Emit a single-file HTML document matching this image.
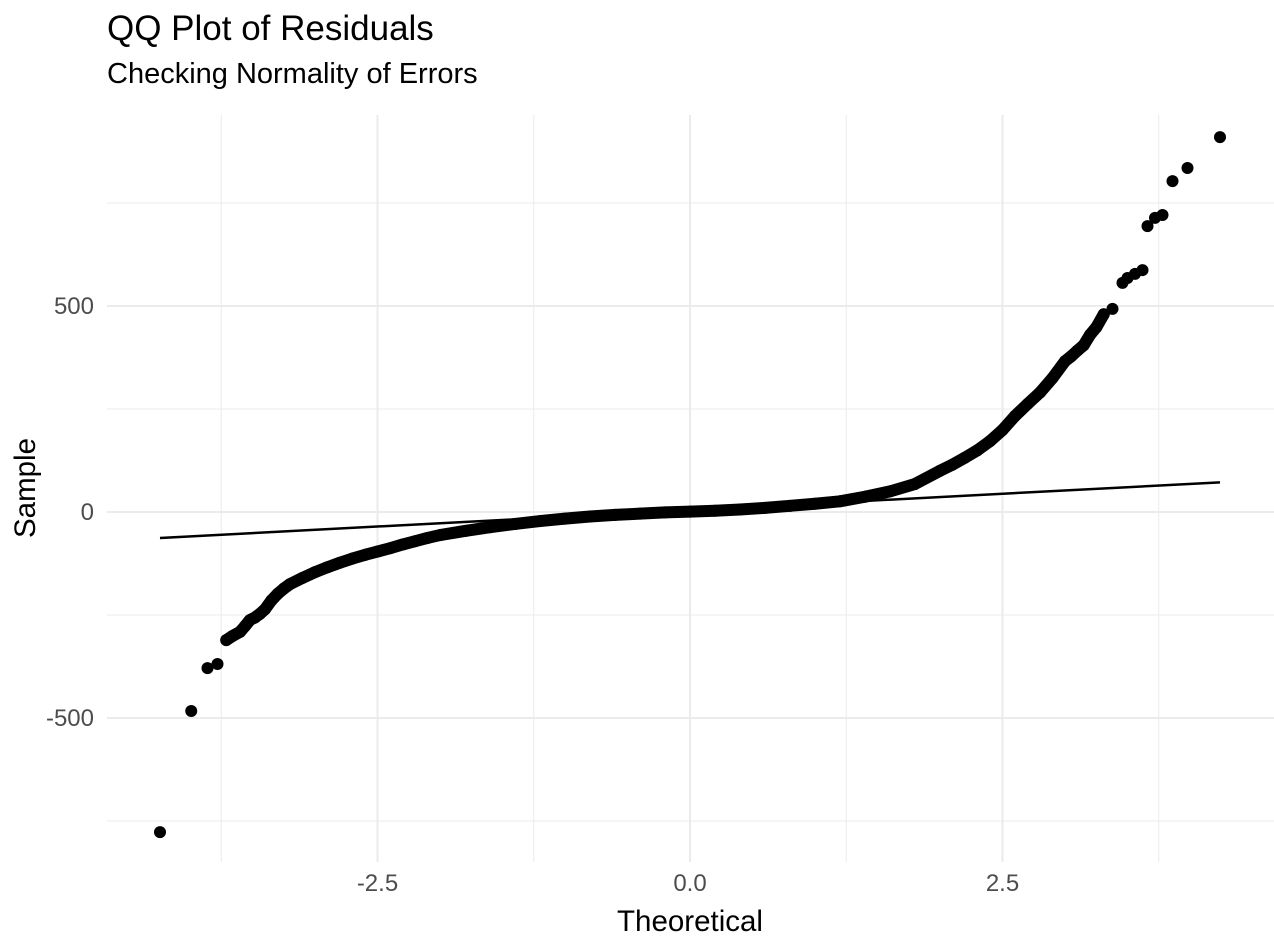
<!DOCTYPE html>
<html><head><meta charset="utf-8"><style>
html,body{margin:0;padding:0;background:#fff;}
svg{display:block;font-family:"Liberation Sans",Arial,sans-serif;}
</style></head><body>
<svg id="chart" width="1274" height="950">
<text x="107" y="40" font-size="35" fill="#000">QQ Plot of Residuals</text>
<text x="107" y="83" font-size="29" fill="#000">Checking Normality of Errors</text>
<g id="grid"></g>
<g id="ticks"></g>
<g id="marks"></g>
<text x="690" y="931" font-size="29.5" text-anchor="middle" fill="#000">Theoretical</text>
<text x="35" y="488" font-size="29.5" text-anchor="middle" fill="#000" transform="rotate(-90 35 488)">Sample</text>
</svg>
<script>
const xMajor=[-2.5,0,2.5];
const xMinor=[-3.75,-1.25,1.25,3.75];
const yMajor=[-500,0,500];
const yMinor=[-750,-250,250,750];
const xTickLabels=["-2.5","0.0","2.5"];
const yTickLabels=["-500","0","500"];
const theoretical=[-4.24,-3.99,-3.86,-3.78,-3.71,-3.66,-3.6,-3.56,-3.52,-3.48,-3.44,-3.4,-3.35,-3.3,-3.25,-3.2,-3.1,-3.0,-2.9,-2.8,-2.7,-2.6,-2.5,-2.4,-2.3,-2.2,-2.1,-2.0,-1.8,-1.6,-1.4,-1.2,-1.0,-0.8,-0.6,-0.4,-0.2,0,0.2,0.4,0.6,0.8,1.0,1.2,1.4,1.6,1.8,2.0,2.1,2.2,2.3,2.4,2.5,2.6,2.7,2.8,2.9,3.0,3.05,3.1,3.15,3.2,3.25,3.31,3.38,3.46,3.5,3.56,3.62,3.66,3.72,3.78,3.86,3.98,4.24];
const sample=[-777,-483,-379,-369,-311,-301,-291,-277,-262,-256,-247,-236,-215,-199,-186,-175,-160,-146,-134,-123,-113,-104,-96,-88,-79,-71,-63,-56,-46,-37,-29,-22,-16,-11,-7,-4,-1,1,3,6,10,15,20,26,37,50,68,100,115,132,150,172,199,233,262,290,325,366,378,392,405,430,448,480,493,556,568,578,587,694,714,721,803,835,910];
const lineT=[-4.24,4.24];
const lineS=[-63,72];
const X=v=>690+v*125, Y=v=>512-v*0.412;
const ns="http://www.w3.org/2000/svg";
function mk(tag,p,at){const e=document.createElementNS(ns,tag);for(const k in at)e.setAttribute(k,at[k]);p.appendChild(e);return e;}
const grid=document.getElementById('grid'),ticks=document.getElementById('ticks'),marks=document.getElementById('marks');
xMinor.forEach(v=>{const l=mk('line',grid,{x1:X(v),x2:X(v),y1:115,y2:862,stroke:'#ebebeb','stroke-width':1});

});
yMinor.forEach(v=>{const l=mk('line',grid,{x1:107,x2:1274,y1:Y(v),y2:Y(v),stroke:'#ebebeb','stroke-width':1});

});
xMajor.forEach((v,i)=>{const l=mk('line',grid,{x1:X(v),x2:X(v),y1:115,y2:862,stroke:'#ebebeb','stroke-width':2});


const t=mk('text',ticks,{x:X(v),y:891,'font-size':24,'text-anchor':'middle',fill:'#4d4d4d'});t.textContent=xTickLabels[i];

});
yMajor.forEach((v,i)=>{const l=mk('line',grid,{x1:107,x2:1274,y1:Y(v),y2:Y(v),stroke:'#ebebeb','stroke-width':2});


const t=mk('text',ticks,{x:94,y:Y(v)+8,'font-size':24,'text-anchor':'end',fill:'#4d4d4d'});t.textContent=yTickLabels[i];

});
const dense=theoretical.map((t,i)=>[t,sample[i]]).filter(p=>p[0]>=-3.71&&p[0]<=3.31);
const pl=mk('polyline',marks,{points:dense.map(p=>X(p[0])+','+Y(p[1])).join(' '),fill:'none',stroke:'#000','stroke-width':12,'stroke-linejoin':'round','stroke-linecap':'round'});


theoretical.forEach((t,i)=>{const c=mk('circle',marks,{cx:X(t),cy:Y(sample[i]),r:6,fill:'#000'});

});
const ln=mk('line',marks,{x1:X(lineT[0]),y1:Y(lineS[0]),x2:X(lineT[1]),y2:Y(lineS[1]),stroke:'#000','stroke-width':2.5});


</script>
</body></html>
